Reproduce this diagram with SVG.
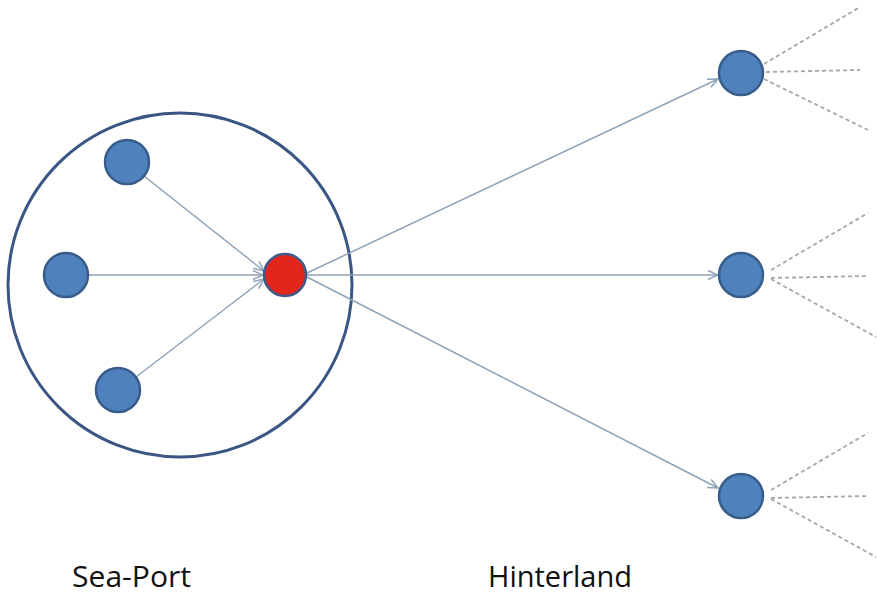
<svg xmlns="http://www.w3.org/2000/svg" width="877" height="596" viewBox="0 0 877 596">
  <style>
    .node { fill: #4f81bd; stroke: #385d8a; stroke-width: 2.5; }
    .hub { fill: #e3261c; stroke: #3d5a8a; stroke-width: 2.5; }
    .edge { stroke: #8fa3b8; stroke-width: 1.5; fill: none; marker-end: url(#arr); }
    .dash { stroke: #a0a8b0; stroke-width: 1.8; stroke-dasharray: 4 3; fill: none; }
    .label { font-family: "Open Sans", "Liberation Sans", Arial, sans-serif; font-size: 29px; fill: #111; }
  </style>
  <defs>
    <marker id="arr" viewBox="0 0 12 12" refX="11" refY="6" markerWidth="12" markerHeight="12" markerUnits="userSpaceOnUse" orient="auto">
      <path d="M1,1.5 L11,6 L1,10.5" fill="none" stroke="#8fa3b8" stroke-width="1.5"/>
    </marker>
  </defs>
  <rect width="877" height="596" fill="#ffffff"/>

  <g id="seaport-boundary">
    <circle cx="180" cy="285" r="172" fill="none" stroke="#3b5684" stroke-width="3"/>
  </g>

  <g id="connectors">
    <line class="edge" x1="144" y1="176" x2="264" y2="271"/>
    <line class="edge" x1="89" y1="275" x2="263" y2="275"/>
    <line class="edge" x1="136" y1="377" x2="264" y2="279"/>
    <line class="edge" x1="307" y1="273" x2="718" y2="79"/>
    <line class="edge" x1="307" y1="275" x2="718" y2="275"/>
    <line class="edge" x1="307" y1="277" x2="718" y2="488"/>
    <g id="dashed-links">
      <line class="dash" x1="764" y1="64" x2="860" y2="7"/>
      <line class="dash" x1="766" y1="72" x2="860" y2="70"/>
      <line class="dash" x1="764" y1="79" x2="868" y2="130"/>
      <line class="dash" x1="771" y1="270" x2="868" y2="213"/>
      <line class="dash" x1="771" y1="278" x2="868" y2="276"/>
      <line class="dash" x1="771" y1="279" x2="876" y2="337"/>
      <line class="dash" x1="771" y1="490" x2="868" y2="433"/>
      <line class="dash" x1="771" y1="498" x2="868" y2="496"/>
      <line class="dash" x1="771" y1="499" x2="876" y2="557"/>
    </g>
  </g>

  <g id="node-port-top"><circle class="node" cx="127" cy="162" r="22"/></g>
  <g id="node-port-left"><circle class="node" cx="66" cy="275" r="22"/></g>
  <g id="node-port-bottom"><circle class="node" cx="118" cy="390" r="22"/></g>
  <g id="node-hub"><circle class="hub" cx="285" cy="275" r="21"/></g>
  <g id="node-hinter-top"><circle class="node" cx="741" cy="73" r="22"/></g>
  <g id="node-hinter-mid"><circle class="node" cx="741" cy="275" r="22"/></g>
  <g id="node-hinter-bottom"><circle class="node" cx="741" cy="496" r="22"/></g>

  <g id="labels">
    <text class="label" x="72" y="587" textLength="119" lengthAdjust="spacingAndGlyphs">Sea-Port</text>
    <text class="label" x="488" y="587" textLength="144" lengthAdjust="spacingAndGlyphs">Hinterland</text>
  </g>
</svg>
